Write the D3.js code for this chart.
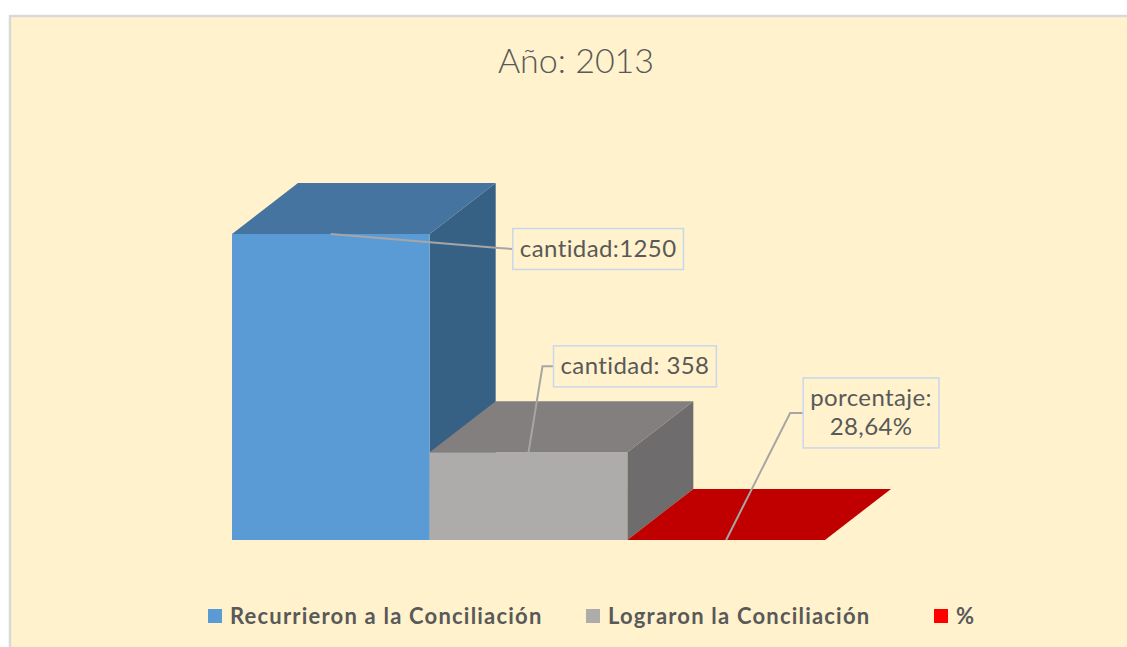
<!DOCTYPE html>
<html>
<head>
<meta charset="utf-8">
<script src="https://cdn.jsdelivr.net/npm/d3@7"></script>
<style>
  body { margin: 0; background: #ffffff; }
  svg { display: block; font-family: "Lato", "Open Sans", sans-serif; }
</style>
</head>
<body>
<div id="chart"></div>
<script>
// Data
const categories = ["Recurrieron a la Conciliación", "Lograron la Conciliación", "%"];
const values = [1250, 358, 0.2864];
const labelTexts = [["cantidad:1250"], ["cantidad: 358"], ["porcentaje:", "28,64%"]];
const title = "Año: 2013";

// Colours per series: front, top, side, legend
const colors = [
    { front: "#5B9BD5", top: "#44749F", side: "#376085", legend: "#5B9BD5" },
    { front: "#AEABAB", top: "#827F7E", side: "#6E6C6C", legend: "#AEABAB" },
    { front: "#C00000", top: "#C00000", side: "#A00000", legend: "#FF0000" }
];

const svgWidth = 1127;
const svgHeight = 647;

const svg = d3.select("#chart")
    .append("svg")
    .attr("width", svgWidth)
    .attr("height", svgHeight);

// Chart area (light yellow with gray border at top / left)
svg.append("rect")
    .attr("x", 10)
    .attr("y", 16)
    .attr("width", svgWidth)
    .attr("height", svgHeight)
    .attr("fill", "#FFF2CC")
    .attr("stroke", "#D9D9D9")
    .attr("stroke-width", 2.5);

// Title
svg.append("text")
    .attr("x", 576)
    .attr("y", 73)
    .attr("text-anchor", "middle")
    .attr("font-size", "34px")
    .attr("font-weight", 300)
    .attr("fill", "#595959")
    .text(title);

// Scales
const xScale = d3.scaleBand()
    .domain(categories)
    .range([232, 825])
    .padding(0);

const yScale = d3.scaleLinear()
    .domain([0, 1250])
    .range([540, 234]);

// 3D depth offset
const depth = { dx: 66, dy: -51 };

const bars = categories.map((c, i) => {
    const x0 = xScale(c);
    const x1 = x0 + xScale.bandwidth();
    const y0 = yScale(0);
    const y1 = yScale(values[i]);
    return { c, i, x0, x1, y0, y1 };
});

const pts = arr => arr.map(p => p.join(",")).join(" ");

const barGroup = svg.append("g");

bars.forEach(b => {
    const col = colors[b.i];
    const g = barGroup.append("g");
    const { dx, dy } = depth;
    // side face
    g.append("polygon")
        .attr("points", pts([[b.x1, b.y1], [b.x1 + dx, b.y1 + dy], [b.x1 + dx, b.y0 + dy], [b.x1, b.y0]]))
        .attr("fill", col.side);
    // front face
    g.append("polygon")
        .attr("points", pts([[b.x0, b.y1], [b.x1, b.y1], [b.x1, b.y0], [b.x0, b.y0]]))
        .attr("fill", col.front);
    // top face
    g.append("polygon")
        .attr("points", pts([[b.x0, b.y1], [b.x0 + dx, b.y1 + dy], [b.x1 + dx, b.y1 + dy], [b.x1, b.y1]]))
        .attr("fill", col.top);
});

// Data labels with leader lines (box offsets relative to the bar anchor)
const labelLayout = [
    { bx: 182, by: 15, elbow: [168, 14] },
    { bx: 25, by: -86, elbow: [14, -86] },
    { bx: 77, by: -127, elbow: [64, -127] }
];

const labelGroup = svg.append("g");

bars.forEach(b => {
    const lay = labelLayout[b.i];
    const ax = xScale(b.c) + xScale.bandwidth() / 2;
    const ay = b.y1;
    const lines = labelTexts[b.i];
    const lineH = 29;
    const padX = 7;
    const padY = 6;

    const g = labelGroup.append("g");
    const line = g.append("polyline")
        .attr("fill", "none")
        .attr("stroke", "#A6A6A6")
        .attr("stroke-width", 2);

    const box = g.append("rect")
        .attr("fill", "#FFF2CC")
        .attr("stroke", "#C9D7EE")
        .attr("stroke-width", 1.5);

    const text = g.append("text")
        .attr("text-anchor", "middle")
        .attr("font-size", "24px")
        .attr("letter-spacing", "0.4px")
        .attr("fill", "#595959");

    text.selectAll("tspan")
        .data(lines)
        .enter()
        .append("tspan")
        .text(d => d);

    // measure widest line
    let maxW = 0;
    text.selectAll("tspan").each(function () {
        maxW = Math.max(maxW, this.getComputedTextLength());
    });
    const boxW = maxW + padX * 2;
    const boxH = lines.length * lineH + padY * 2;
    const bx = ax + lay.bx;
    const by = ay + lay.by - boxH / 2;

    box.attr("x", bx).attr("y", by).attr("width", boxW).attr("height", boxH);

    text.selectAll("tspan")
        .attr("x", bx + boxW / 2)
        .attr("y", (d, k) => by + padY + lineH * k + 22);

    line.attr("points", pts([[ax, ay], [ax + lay.elbow[0], ay + lay.elbow[1]], [bx, ay + lay.by]]));
});

// Legend
const legendY = 616;
const legendX = [208, 586, 934];
const legend = svg.append("g");

categories.forEach((c, i) => {
    legend.append("rect")
        .attr("x", legendX[i])
        .attr("y", legendY - 7)
        .attr("width", 14)
        .attr("height", 14)
        .attr("fill", colors[i].legend);
    legend.append("text")
        .attr("x", legendX[i] + 22)
        .attr("y", legendY + 8)
        .attr("font-size", "22px")
        .attr("font-weight", "bold")
        .attr("letter-spacing", "1.2px")
        .attr("fill", "#595959")
        .text(c);
});
</script>
</body>
</html>
